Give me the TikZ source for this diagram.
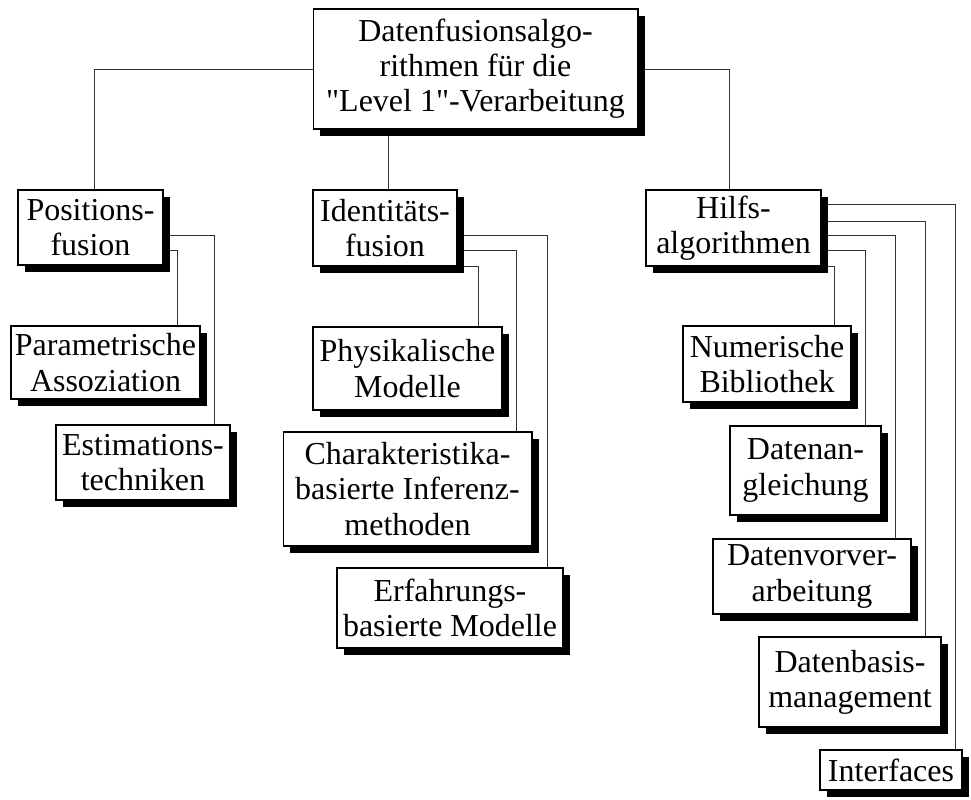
\documentclass[tikz,border=0pt]{standalone}
\usepackage{fontspec}
\setmainfont{Liberation Serif}
\usetikzlibrary{calc,shadows}
\pgfdeclarelayer{background}
\pgfsetlayers{background,main}
% straight double quote, set as a glyph so no input mapping curls it
\newcommand\straightq{\XeTeXglyph\XeTeXcharglyph"0022\relax}
\begin{document}
\begin{tikzpicture}[x=0.02cm,y=-0.02cm,
  box/.style={draw=black, fill=white, line width=0.6pt, inner sep=0pt,
    align=center, font=\fontsize{18.2}{20}\selectfont,
    general shadow={fill=black, shadow xshift=4pt, shadow yshift=-4pt}},
  conn/.style={draw=black!80, line width=0.55pt}]
\useasboundingbox (0,0) rectangle (971,800);

% top node
\node[box, minimum width=6.5cm, minimum height=2.4cm] (root) at (475.5,69)
  {Datenfusionsalgo-\\rithmen für die\\\straightq Level 1\straightq-Verarbeitung};

% second level
\node[box, minimum width=2.9cm, minimum height=1.5cm] (pos) at (90.5,227.5)
  {Positions-\\fusion};
\node[box, minimum width=2.88cm, minimum height=1.52cm] (ident) at (385,228)
  {Identitäts-\\fusion};
\node[box, minimum width=3.5cm, minimum height=1.52cm] (hilf) at (733.5,228)
  {Hilfs-\\algorithmen};

% position fusion
\node[box, minimum width=3.78cm, minimum height=1.46cm] (param) at (105.5,362.5)
  {Parametrische\\Assoziation};
\node[box, minimum width=3.48cm, minimum height=1.5cm] (est) at (143,462.5)
  {Estimations-\\techniken};

% identity fusion
\node[box, minimum width=3.78cm, minimum height=1.66cm] (phys) at (407.5,368.5)
  {Physikalische\\Modelle};
\node[box, minimum width=4.98cm, minimum height=2.28cm] (char) at (407.5,489)
  {Charakteristika-\\basierte Inferenz-\\methoden};
\node[box, minimum width=4.52cm, minimum height=1.6cm] (erf) at (450,608)
  {Erfahrungs-\\basierte Modelle};

% auxiliary algorithms
\node[box, minimum width=3.36cm, minimum height=1.52cm] (num) at (767,364)
  {Numerische\\Bibliothek};
\node[box, minimum width=3.02cm, minimum height=1.78cm] (dang) at (805.5,470.5)
  {Datenan-\\gleichung};
\node[box, minimum width=3.96cm, minimum height=1.5cm] (dvor) at (812,576.5)
  {Datenvorver-\\arbeitung};
\node[box, minimum width=3.64cm, minimum height=1.8cm] (dbas) at (850,682)
  {Datenbasis-\\management};
\node[box, minimum width=2.84cm, minimum height=0.8cm] (intf) at (891,770)
  {Interfaces};

\begin{pgfonlayer}{background}
  % root to second level
  \draw[conn] ($(root.north west)+(0,61)$) -| ($(pos.north west)+(77,0)$);
  \draw[conn] ($(root.north east)+(0,61)$) -| ($(hilf.north west)+(84,0)$);
  \draw[conn] ($(ident.north west)+(76,0)$) -- ++(0,-61);
  % position fusion branches
  \draw[conn] ($(pos.north east)+(0,46)$) -| ($(est.north west)+(159,0)$);
  \draw[conn] ($(pos.north east)+(0,61)$) -| ($(param.north west)+(167,0)$);
  % identity fusion branches
  \draw[conn] ($(ident.north east)+(0,46)$) -| ($(erf.north west)+(211,0)$);
  \draw[conn] ($(ident.north east)+(0,61)$) -| ($(char.north west)+(234,0)$);
  \draw[conn] ($(ident.north east)+(0,77)$) -| ($(phys.north west)+(166,0)$);
  % auxiliary branches
  \draw[conn] ($(hilf.north east)+(0,15)$) -| ($(intf.north west)+(136,0)$);
  \draw[conn] ($(hilf.north east)+(0,32)$) -| ($(dbas.north west)+(167,0)$);
  \draw[conn] ($(hilf.north east)+(0,46)$) -| ($(dvor.north west)+(183,0)$);
  \draw[conn] ($(hilf.north east)+(0,61)$) -| ($(dang.north west)+(136,0)$);
  \draw[conn] ($(hilf.north east)+(0,77)$) -| ($(num.north west)+(152,0)$);
\end{pgfonlayer}
\end{tikzpicture}
\end{document}
